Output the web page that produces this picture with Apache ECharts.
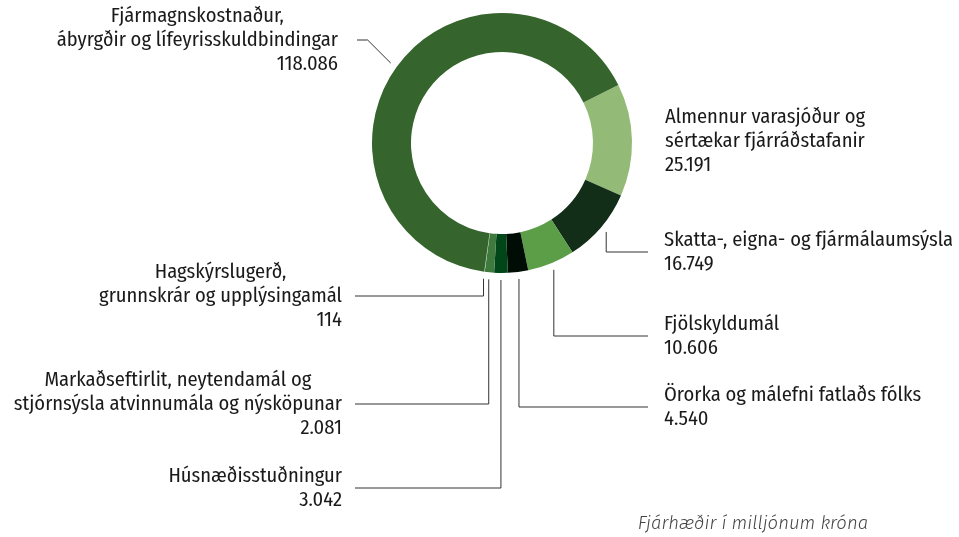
<!DOCTYPE html>
<html>
<head>
<meta charset="utf-8">
<script src="https://cdn.jsdelivr.net/npm/echarts@6/dist/echarts.min.js"></script>
<style>
  html, body { margin: 0; padding: 0; background: #fff; }
  #chart { width: 959px; height: 537px; }
</style>
</head>
<body>
<div id="chart"></div>
<script>
// málefnasvið, í röð réttsælis frá "Almennur varasjóður"
const names = [
  "Almennur varasjóður og\nsértækar fjárráðstafanir",
  "Skatta-, eigna- og fjármálaumsýsla",
  "Fjölskyldumál",
  "Örorka og málefni fatlaðs fólks",
  "Húsnæðisstuðningur",
  "Markaðseftirlit, neytendamál og\nstjórnsýsla atvinnumála og nýsköpunar",
  "Hagskýrslugerð,\ngrunnskrár og upplýsingamál",
  "Fjármagnskostnaður,\nábyrgðir og lífeyrisskuldbindingar"
];
const values = [25191, 16749, 10606, 4540, 3042, 2081, 114, 118086];
const colors = ["#93ba76", "#132e18", "#5c9e47", "#000d05", "#004619", "#3e7a3e", "#a8c995", "#35652d"];

// staðsetning merkja (hlið, x texta, y miðju, endi línu, gerð línu)
const anchors = [
  { side: "right", x: 665, y: 141, line: null },
  { side: "right", x: 664, y: 252, lineEnd: 648, line: "v" },
  { side: "right", x: 664, y: 336, lineEnd: 648, line: "v" },
  { side: "right", x: 664, y: 407, lineEnd: 648, line: "v" },
  { side: "left", x: 342, y: 488, lineEnd: 355, line: "v" },
  { side: "left", x: 342, y: 404, lineEnd: 355, line: "v" },
  { side: "left", x: 342, y: 296, lineEnd: 355, line: "v" },
  { side: "left", x: 338, y: 40, lineEnd: 357, line: "d" }
];

const cx = 502, cy = 143, rIn = 91, rOut = 130;
const startAngle = 26.5; // gráður, rangsælis frá kl. 3

function fmt(v) {
  return String(v).replace(/\B(?=(\d{3})+(?!\d))/g, ".");
}

// miðhorn hverrar sneiðar (réttsælis frá toppi)
const total = values.reduce((a, b) => a + b, 0);
const midAngles = [];
let acc = 90 - startAngle;
values.forEach((v) => {
  const span = (v / total) * 360;
  midAngles.push(acc + span / 2);
  acc += span;
});

const chart = echarts.init(document.getElementById("chart"));

const font = "'Fira Sans Condensed', 'Roboto Condensed', sans-serif";
const fs = 20.5;
const txt = "#1a1a1a";

const option = {
  animation: false,
  title: {
    text: "Fjárhæðir í milljónum króna",
    right: 86,
    top: 509,
    textStyle: {
      fontFamily: "'Fira Sans', 'Open Sans', sans-serif",
      fontStyle: "italic",
      fontWeight: 300,
      fontSize: 18.5,
      color: "#444"
    }
  },
  series: [
    {
      type: "pie",
      center: [cx, cy],
      radius: [rIn, rOut],
      startAngle: startAngle,
      clockwise: true,
      avoidLabelOverlap: false,
      silent: true,
      itemStyle: { borderWidth: 0 },
      label: {
        show: true,
        position: "outside",
        fontFamily: font,
        fontSize: fs,
        color: txt,
        formatter: (p) => {
          const a = anchors[p.dataIndex];
          if (a.side === "left") {
            return "{n|" + p.name + "}\n{vr|" + fmt(p.value) + "}";
          }
          return "{l|" + p.name + "}\n{l|" + fmt(p.value) + "}";
        },
        rich: {
          n: { align: "center", fontFamily: font, fontSize: fs, lineHeight: 24, color: txt },
          vr: { align: "right", fontFamily: font, fontSize: fs, lineHeight: 24, color: txt },
          l: { align: "left", fontFamily: font, fontSize: fs, lineHeight: 24, color: txt }
        }
      },
      labelLine: {
        show: true,
        length: 5,
        length2: 5,
        smooth: false,
        lineStyle: { color: "#333", width: 1 }
      },
      labelLayout: (params) => {
        const i = params.dataIndex;
        const a = anchors[i];
        const out = {
          x: a.x,
          y: a.y,
          align: a.side === "left" ? "right" : "left",
          verticalAlign: "middle"
        };
        if (a.line) {
          const ang = (midAngles[i] * Math.PI) / 180;
          const r = rOut + 7;
          const sx = cx + r * Math.sin(ang);
          const sy = cy - r * Math.cos(ang);
          let p1;
          if (a.line === "d") {
            p1 = [sx - (sy - a.y), a.y];
          } else {
            p1 = [sx, a.y];
          }
          out.labelLinePoints = [[sx, sy], p1, [a.lineEnd, a.y]];
        }
        return out;
      },
      data: values.map((v, i) => ({
        name: names[i],
        value: v,
        itemStyle: { color: colors[i] },
        labelLine: { show: anchors[i].line !== null }
      }))
    }
  ]
};

chart.setOption(option);
</script>
</body>
</html>
